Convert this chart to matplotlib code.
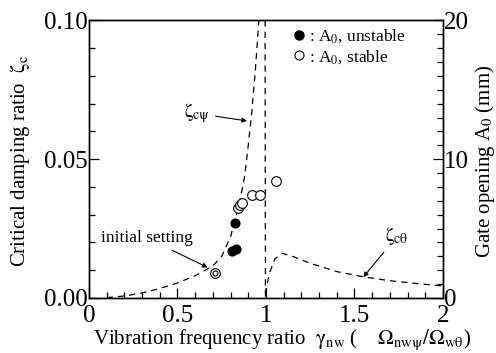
import numpy as np
import matplotlib
matplotlib.use("Agg")
import matplotlib.pyplot as plt
from matplotlib.lines import Line2D

plt.rcParams['font.family'] = ['Liberation Serif', 'DejaVu Serif']
plt.rcParams['mathtext.fontset'] = 'stix'

# critical damping ratio zeta_c_psi (left axis)
psi_x = [0.10, 0.20, 0.30, 0.40, 0.50, 0.60, 0.70, 0.75, 0.80, 0.85, 0.88, 0.90, 0.92, 0.94, 0.96]
psi_y = [0.0001, 0.0007, 0.0018, 0.0034, 0.0054, 0.0080, 0.0115, 0.0150, 0.0220, 0.0340, 0.0440, 0.0550, 0.0670, 0.0820, 0.1000]

# zeta_c_theta branch (vertical drop at gamma ~ 1 then hump)
theta_x = [0.995, 0.997, 1.00, 1.02, 1.05, 1.09, 1.15, 1.25, 1.40, 1.55, 1.70, 1.85, 2.00]
theta_y = [0.100, 0.000, 0.003, 0.009, 0.0140, 0.0161, 0.0150, 0.0125, 0.0095, 0.0076, 0.0062, 0.0052, 0.0043]

# gate opening A0 (mm), right axis
unstable_x = [0.810, 0.830, 0.825]
unstable_a0 = [3.35, 3.50, 5.42]
stable_x = [0.840, 0.853, 0.866, 0.919, 0.969, 1.054]
stable_a0 = [6.50, 6.70, 6.86, 7.40, 7.40, 8.40]
init_x = [0.712]
init_a0 = [1.82]

fig = plt.figure(figsize=(4.96, 3.53), dpi=100)
ax = fig.add_axes([0.1794, 0.156, 0.7136, 0.786])
ax2 = ax.twinx()

ax.plot(psi_x, psi_y, color='black', lw=0.9, ls=(0, (5, 4)))
ax.plot(theta_x, theta_y, color='black', lw=0.9, ls=(0, (5, 4)))

ax2.plot(unstable_x, unstable_a0, 'o', ms=6.5, mfc='black', mec='black', mew=0.8)
ax2.plot(stable_x, stable_a0, 'o', ms=7, mfc='white', mec='black', mew=0.8)
ax2.plot(init_x, init_a0, 'o', ms=7, mfc='white', mec='black', mew=0.8)
ax2.plot(init_x, init_a0, 'o', ms=3.5, mfc='white', mec='black', mew=0.8)

ax.set_xlim(0, 2)
ax.set_ylim(0, 0.1)
ax2.set_ylim(0, 20)

ax.set_xticks([0, 0.5, 1, 1.5, 2])
ax.set_xticklabels(['0', '0.5', '1', '1.5', '2'])
ax.set_xticks(np.arange(0, 2.01, 0.1), minor=True)
ax.set_yticks([0, 0.05, 0.1])
ax.set_yticklabels(['0.00', '0.05', '0.10'])
ax.set_yticks(np.arange(0, 0.1001, 0.01), minor=True)
ax2.set_yticks([0, 10, 20])
ax2.set_yticklabels(['0', '10', '20'])
ax2.set_yticks(np.arange(0, 20.1, 1), minor=True)

for a in (ax, ax2):
    a.tick_params(which='both', direction='in', labelsize=18, pad=1, width=0.9)
    a.tick_params(which='major', length=7)
    a.tick_params(which='minor', length=4)
    for s in a.spines.values():
        s.set_linewidth(1.0)
ax.tick_params(axis='x', pad=5)

arrow = dict(arrowstyle='-|>', color='black', lw=0.8, mutation_scale=7, shrinkA=2, shrinkB=0)
ax.annotate(r'$\mathrm{\zeta_{c\psi}}$', xy=(0.893, 0.0638), xytext=(0.61, 0.0665),
            fontsize=14, ha='center', va='center', arrowprops=arrow)
ax.annotate(r'$\mathrm{\zeta_{c\theta}}$', xy=(1.55, 0.0075), xytext=(1.74, 0.0222),
            fontsize=14, ha='center', va='center', arrowprops=arrow)
ax.annotate('initial setting', xy=(0.67, 0.011), xytext=(0.33, 0.0215),
            fontsize=12.5, ha='center', va='center', arrowprops=arrow)

handles = [
    Line2D([], [], ls='none', marker='o', ms=6.5, mfc='black', mec='black'),
    Line2D([], [], ls='none', marker='o', ms=6.5, mfc='white', mec='black', mew=0.8),
]
ax.legend(handles, [r': A$_0$, unstable', r': A$_0$, stable'], loc='upper left',
          bbox_to_anchor=(0.58, 0.975), frameon=False, fontsize=12.5,
          handlelength=0.6, handletextpad=0.25, labelspacing=0.15,
          borderaxespad=0, borderpad=0)

fig.text(0.04, 0.544, r'Critical damping ratio  $\mathrm{\zeta_{c}}$', rotation=90,
         ha='center', va='center', fontsize=15)
fig.text(0.977, 0.544, r'Gate opening A$_0$ (mm)', rotation=90,
         ha='center', va='center', fontsize=15)
fig.text(0.569, 0.026,
         r'Vibration frequency ratio  $\mathrm{\gamma_{nw}}$ (    $\mathrm{\Omega_{nw\psi}/\Omega_{w\theta}}$)',
         ha='center', va='baseline', fontsize=15)

fig.savefig('out.png', dpi=100)
